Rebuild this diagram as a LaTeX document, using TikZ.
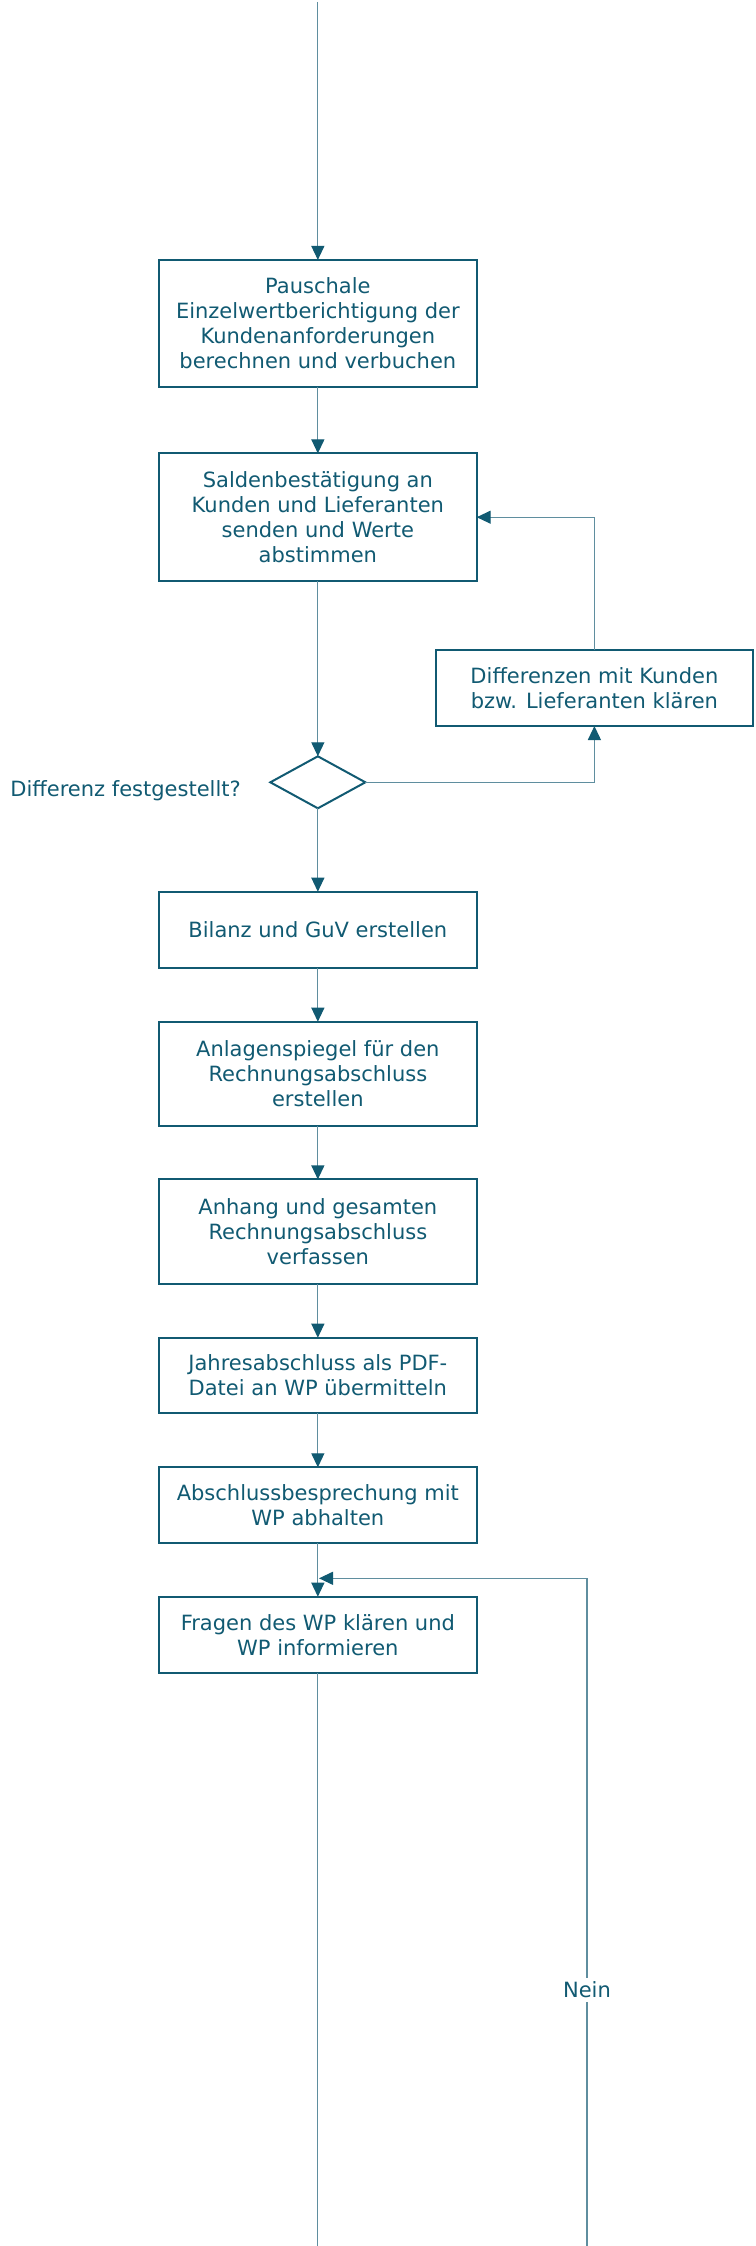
\documentclass[tikz,border=0pt]{standalone}
\usepackage{fontspec}
\setmainfont{DejaVu Sans}
\usetikzlibrary{arrows.meta,shapes.geometric}
\definecolor{dk}{HTML}{115A72}
\definecolor{ln}{HTML}{5F8E9F}
\begin{document}
\begin{tikzpicture}[x=0.5pt,y=-0.5pt,
  txt/.style={text=dk, font=\fontsize{10.5pt}{12.5pt}\selectfont},
  box/.style={txt, draw=dk, line width=1pt, align=center, minimum width=158.85pt, inner sep=0pt, outer sep=0pt},
  conn/.style={draw=ln, line width=0.6pt, -{Triangle[width=6.5pt,length=7pt,color=dk]}},
  plain/.style={draw=ln, line width=0.6pt}]
\useasboundingbox (0,0) rectangle (755,2246);

\node[box, minimum height=63.35pt] (b1) at (317.85,323.3) {Pauschale\\Einzelwertberichtigung der\\Kundenanforderungen\\berechnen und verbuchen};
\node[box, minimum height=63.8pt] (b2) at (317.85,517.2) {Saldenbestätigung an\\Kunden und Lieferanten\\senden und Werte\\abstimmen};
\node[box, minimum width=158.65pt, minimum height=38pt] (rb) at (594.4,688) {Differenzen mit Kunden\\bzw. Lieferanten klären};
\node[diamond, draw=dk, line width=1pt, minimum width=47.5pt, minimum height=26pt, inner sep=0pt, outer sep=0pt] (d) at (317.85,782.3) {};
\node[txt, anchor=base west, inner sep=0pt] (q) at (10,796.7) {Differenz festgestellt?};
\node[box, minimum height=38pt] (b3) at (317.85,929.7) {Bilanz und GuV erstellen};
\node[box, minimum height=52pt] (b4) at (317.85,1073.7) {Anlagenspiegel für den\\Rechnungsabschluss\\erstellen};
\node[box, minimum height=52.3pt] (b5) at (317.85,1231.7) {Anhang und gesamten\\Rechnungsabschluss\\verfassen};
\node[box, minimum height=37.8pt] (b6) at (317.85,1375.5) {Jahresabschluss als PDF-\\Datei an WP übermitteln};
\node[box, minimum height=38pt] (b7) at (317.85,1505.3) {Abschlussbesprechung mit\\WP abhalten};
\node[box, minimum height=38pt] (b8) at (317.85,1634.7) {Fragen des WP klären und\\WP informieren};

\coordinate (top) at (317.85,2);
\coordinate (bot1) at (317.85,2246);
\coordinate (bot2) at (587,2246);
\coordinate (join) at (319,1578.3);

\draw[conn] (top) -- (b1.north);
\draw[conn] (b1) -- (b2);
\draw[conn] (b2) -- (d);
\draw[conn] (d.east) -| (rb.south);
\draw[conn] (rb.north) |- (b2.east);
\draw[conn] (d) -- (b3);
\draw[conn] (b3) -- (b4);
\draw[conn] (b4) -- (b5);
\draw[conn] (b5) -- (b6);
\draw[conn] (b6) -- (b7);
\draw[conn] (b7) -- (b8);
\draw[plain] (b8) -- (bot1);
\draw[conn] (bot2) |- (join);
\node[txt, fill=white, inner sep=2pt] (nein) at (587,1990) {Nein};
\end{tikzpicture}
\end{document}
